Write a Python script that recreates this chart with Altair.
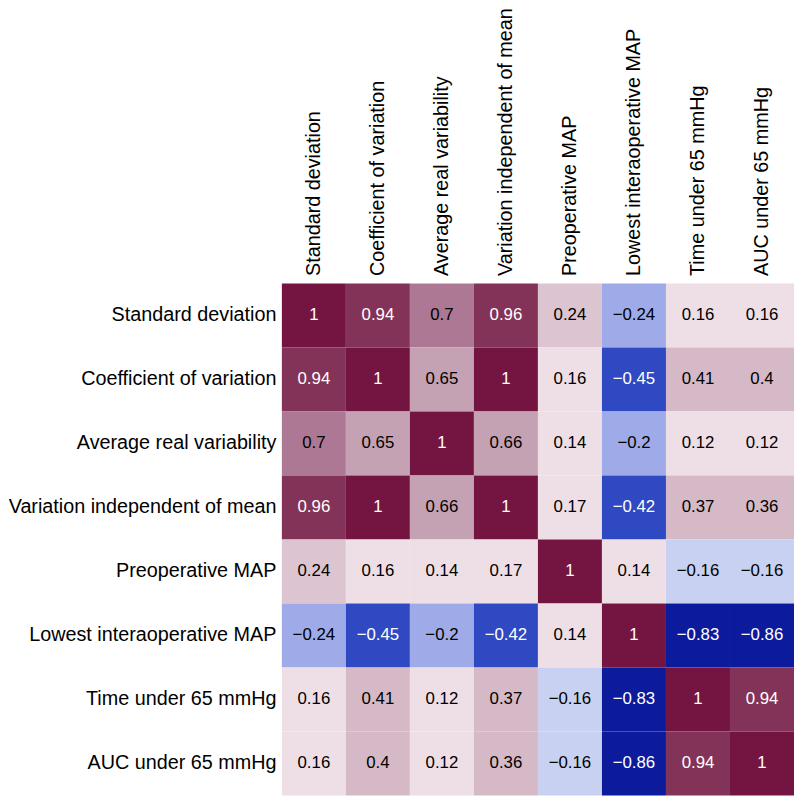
import altair as alt
import pandas as pd

variables = [
    "Standard deviation",
    "Coefficient of variation",
    "Average real variability",
    "Variation independent of mean",
    "Preoperative MAP",
    "Lowest interaoperative MAP",
    "Time under 65 mmHg",
    "AUC under 65 mmHg",
]

row_sd = [1, 0.94, 0.7, 0.96, 0.24, -0.24, 0.16, 0.16]
row_cv = [0.94, 1, 0.65, 1, 0.16, -0.45, 0.41, 0.4]
row_arv = [0.7, 0.65, 1, 0.66, 0.14, -0.2, 0.12, 0.12]
row_vim = [0.96, 1, 0.66, 1, 0.17, -0.42, 0.37, 0.36]
row_pre = [0.24, 0.16, 0.14, 0.17, 1, 0.14, -0.16, -0.16]
row_low = [-0.24, -0.45, -0.2, -0.42, 0.14, 1, -0.83, -0.86]
row_time = [0.16, 0.41, 0.12, 0.37, -0.16, -0.83, 1, 0.94]
row_auc = [0.16, 0.4, 0.12, 0.36, -0.16, -0.86, 0.94, 1]

rows = [row_sd, row_cv, row_arv, row_vim, row_pre, row_low, row_time, row_auc]

records = []
for i, r in enumerate(rows):
    for j, v in enumerate(r):
        label = f"{v:g}".replace("-", "\u2212")
        records.append({"row": variables[i], "col": variables[j], "value": v, "label": label})
df = pd.DataFrame(records)

thresholds = [-0.5, -0.3, -0.18, 0, 0.2, 0.3, 0.5, 0.68, 0.9, 0.99]
colors = ["#0b1b9c", "#2e49c2", "#9eabe8", "#c9d1f2", "#eedfe6", "#dcc5d0",
          "#d5b9c6", "#c4a1b3", "#ad7893", "#823357", "#741541"]

FONT = "Liberation Sans"

base = alt.Chart(df).encode(
    x=alt.X("col:N", sort=variables, title=None,
            axis=alt.Axis(orient="top", labelAngle=-90, labelFontSize=20,
                          labelPadding=8, labelFont=FONT, labelColor="#000000",
                          ticks=False, domain=False, labelLimit=400)),
    y=alt.Y("row:N", sort=variables, title=None,
            axis=alt.Axis(labelFontSize=20, labelPadding=6, labelFont=FONT,
                          labelColor="#000000", ticks=False, domain=False,
                          labelLimit=400)),
)

rect = base.mark_rect().encode(
    color=alt.Color("value:Q", legend=None,
                    scale=alt.Scale(type="threshold", domain=thresholds, range=colors))
)

text = base.mark_text(fontSize=17, font=FONT).encode(
    text="label:N",
    color=alt.condition(
        (alt.datum.value >= 0.9) | (alt.datum.value <= -0.4),
        alt.value("#ffffff"), alt.value("#000000"))
)

chart = (rect + text).properties(
    width=518, height=518,
    padding={"left": 0, "top": -5, "right": 0, "bottom": 0},
).configure_view(stroke=None).configure_scale(bandPaddingInner=0, bandPaddingOuter=0)

chart.save("out.html", embed_options={"renderer": "svg", "actions": False})
